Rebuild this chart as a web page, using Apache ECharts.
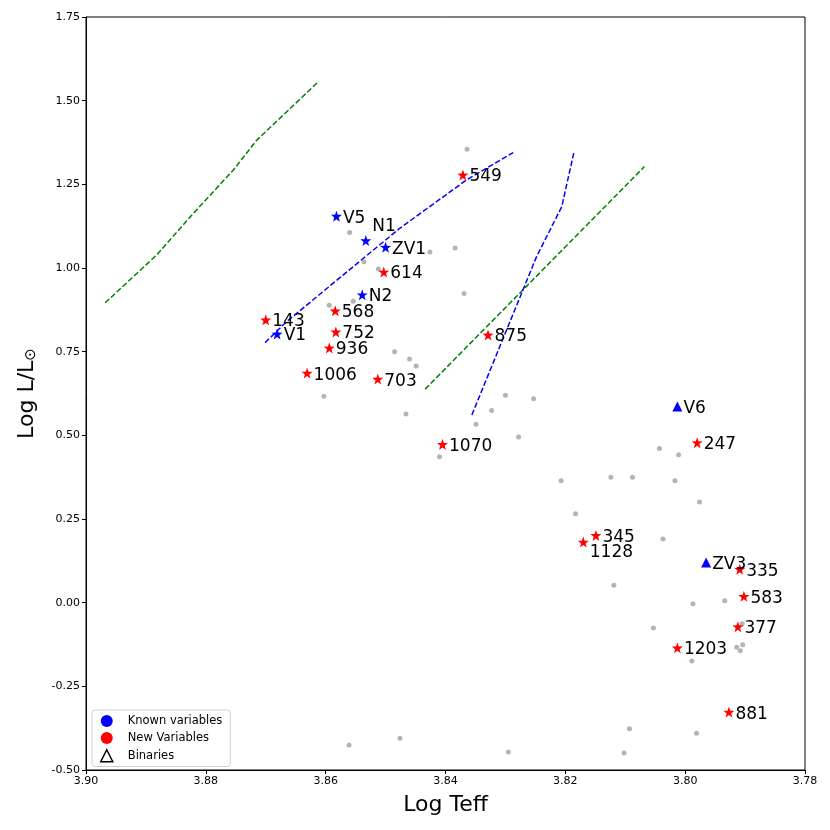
<!DOCTYPE html>
<html>
<head>
<meta charset="utf-8">
<script src="https://cdn.jsdelivr.net/npm/echarts@6/dist/echarts.min.js"></script>
<style>
  html, body { margin: 0; padding: 0; background: #fff; }
  #chart { width: 830px; height: 830px; }
</style>
</head>
<body>
<div id="chart"></div>
<script>
// x = Log Teff, y = Log L/Lsun
const xTicks = [3.90, 3.88, 3.86, 3.84, 3.82, 3.80, 3.78];
const yTicks = [-0.50, -0.25, 0.00, 0.25, 0.50, 0.75, 1.00, 1.25, 1.50, 1.75];

const knownNames = ['V5', 'N1', 'ZV1', 'N2', 'V1'];
const knownTeff = [3.8582, 3.8533, 3.8500, 3.8539, 3.8681];
const knownLum = [1.155, 1.082, 1.062, 0.920, 0.803];

const binaryNames = ['V6', 'ZV3'];
const binaryTeff = [3.8013, 3.7965];
const binaryLum = [0.586, 0.120];

const newNames = ['549', '614', '568', '143', '752', '936', '1006', '703', '875', '1070',
  '247', '345', '1128', '335', '583', '377', '1203', '881'];
const newTeff = [3.8371, 3.8503, 3.8584, 3.8700, 3.8583, 3.8594, 3.8631, 3.8513, 3.8329, 3.8405,
  3.7980, 3.8149, 3.8170, 3.7909, 3.7902, 3.7912, 3.8013, 3.7927];
const newLum = [1.278, 0.988, 0.872, 0.845, 0.809, 0.761, 0.686, 0.668, 0.800, 0.473,
  0.478, 0.201, 0.181, 0.100, 0.019, -0.072, -0.135, -0.327];

const fieldTeff = [3.8364, 3.8560, 3.8426, 3.8384, 3.8536, 3.8512, 3.8369, 3.8594, 3.8554, 3.8485,
  3.8460, 3.8449, 3.8603, 3.8466, 3.8349, 3.8300, 3.8253, 3.8323, 3.8278, 3.8410,
  3.8043, 3.8011, 3.8207, 3.8124, 3.8088, 3.8017, 3.7976, 3.8183, 3.8037, 3.8119,
  3.7987, 3.7934, 3.7905, 3.8053, 3.7914, 3.7904, 3.7908, 3.7989, 3.8093, 3.7981,
  3.8476, 3.8295, 3.8102, 3.8561];
const fieldLum = [1.355, 1.106, 1.048, 1.060, 1.019, 0.997, 0.924, 0.889, 0.901, 0.750,
  0.728, 0.707, 0.617, 0.564, 0.533, 0.620, 0.609, 0.574, 0.495, 0.436,
  0.461, 0.442, 0.364, 0.375, 0.375, 0.364, 0.301, 0.266, 0.190, 0.052,
  -0.003, 0.006, -0.063, -0.076, -0.133, -0.126, -0.144, -0.174, -0.377, -0.390,
  -0.405, -0.446, -0.449, -0.425];

// instability strip edges (green) and blue edges
const greenLeftTeff = [3.8968, 3.8882, 3.8826, 3.8754, 3.8715, 3.8612];
const greenLeftLum = [0.896, 1.039, 1.153, 1.293, 1.382, 1.557];
const greenRightTeff = [3.8434, 3.8068];
const greenRightLum = [0.638, 1.303];
const blueLeftTeff = [3.8701, 3.8665, 3.8537, 3.8476, 3.8365, 3.8287];
const blueLeftLum = [0.777, 0.840, 1.029, 1.119, 1.263, 1.345];
const blueRightTeff = [3.8356, 3.8248, 3.8206, 3.8186];
const blueRightLum = [0.561, 1.034, 1.183, 1.343];

// labels that are not placed plainly to the right
const labelOffset = { N1: [0, -14], '1128': [0, 10] };

const FONT = 'DejaVu Sans';
const dash = [5.5, 2.4];
const STAR = 'path://M0,-10 L2.35,-3.24 L9.51,-3.09 L3.8,1.24 L5.88,8.09 L0,4 L-5.88,8.09 L-3.8,1.24 L-9.51,-3.09 L-2.35,-3.24 Z';

function pairs(xs, ys) {
  return xs.map((x, i) => [x, ys[i]]);
}
function named(names, xs, ys) {
  return names.map((n, i) => {
    const item = { name: n, value: [xs[i], ys[i]] };
    if (labelOffset[n]) item.label = { offset: labelOffset[n] };
    return item;
  });
}
const starLabel = {
  show: true,
  position: 'right',
  distance: 1,
  offset: [0, 2],
  formatter: '{b}',
  color: '#000',
  fontFamily: FONT,
  fontSize: 17
};
function edge(xs, ys, color) {
  return {
    type: 'line',
    data: pairs(xs, ys),
    showSymbol: false,
    silent: true,
    lineStyle: { color: color, width: 1.5, type: dash },
    z: 1
  };
}

let chart = echarts.init(document.getElementById('chart'));
chart.setOption({
  animation: false,
  grid: {
    left: 86,
    right: 25,
    top: 17,
    bottom: 60,
    show: true,
    borderColor: '#000',
    borderWidth: 1
  },
  legend: {
    orient: 'vertical',
    left: 92,
    top: 710,
    padding: [5, 8, 4, 8],
    itemGap: 5,
    itemWidth: 12,
    itemHeight: 12,
    backgroundColor: '#fff',
    borderColor: '#d0d0d0',
    borderWidth: 1,
    borderRadius: 3,
    textStyle: { fontFamily: FONT, fontSize: 11.5, color: '#000', padding: [0, 0, 0, 10] },
    data: [
      { name: 'Known variables', icon: 'circle', itemStyle: { color: '#0000ff', opacity: 1 } },
      { name: 'New Variables', icon: 'circle', itemStyle: { color: '#ff0000', opacity: 1 } },
      { name: 'Binaries', icon: 'triangle', itemStyle: { color: '#fff', borderColor: '#000', borderWidth: 1.5, opacity: 1 } }
    ]
  },
  xAxis: {
    type: 'value',
    inverse: true,
    min: xTicks[xTicks.length - 1],
    max: xTicks[0],
    interval: 0.02,
    name: 'Log Teff',
    nameLocation: 'middle',
    nameGap: 24,
    nameTextStyle: { fontFamily: FONT, fontSize: 22, color: '#000' },
    splitLine: { show: false },
    axisLine: { onZero: false, lineStyle: { color: '#000' } },
    axisTick: { show: true, length: 4, lineStyle: { color: '#000' } },
    axisLabel: {
      fontFamily: FONT, fontSize: 11, color: '#000', margin: 6,
      formatter: (v) => v.toFixed(2)
    }
  },
  yAxis: {
    type: 'value',
    min: yTicks[0],
    max: yTicks[yTicks.length - 1],
    interval: 0.25,
    name: 'Log L/L{sub|⊙}',
    nameLocation: 'middle',
    nameGap: 47,
    nameTextStyle: {
      fontFamily: FONT, fontSize: 22, color: '#000',
      rich: { sub: { fontFamily: FONT, fontSize: 15, verticalAlign: 'bottom', padding: [8, 0, 0, 0] } }
    },
    splitLine: { show: false },
    axisLine: { onZero: false, lineStyle: { color: '#000' } },
    axisTick: { show: true, length: 4, lineStyle: { color: '#000' } },
    axisLabel: {
      fontFamily: FONT, fontSize: 11, color: '#000', margin: 6,
      formatter: (v) => v.toFixed(2)
    }
  },
  series: [
    {
      name: 'field',
      type: 'scatter',
      data: pairs(fieldTeff, fieldLum),
      symbol: 'circle',
      symbolSize: 5,
      itemStyle: { color: '#b4b4b4', opacity: 1 },
      silent: true,
      z: 2
    },
    edge(greenLeftTeff, greenLeftLum, '#008000'),
    edge(greenRightTeff, greenRightLum, '#008000'),
    edge(blueLeftTeff, blueLeftLum, '#0000ff'),
    edge(blueRightTeff, blueRightLum, '#0000ff'),
    {
      name: 'Known variables',
      type: 'scatter',
      data: named(knownNames, knownTeff, knownLum),
      symbol: STAR,
      symbolSize: 11,
      itemStyle: { color: '#0000ff', opacity: 1 },
      label: starLabel,
      z: 3
    },
    {
      name: 'New Variables',
      type: 'scatter',
      data: named(newNames, newTeff, newLum),
      symbol: STAR,
      symbolSize: 11,
      itemStyle: { color: '#ff0000', opacity: 1 },
      label: starLabel,
      z: 3
    },
    {
      name: 'Binaries',
      type: 'scatter',
      data: named(binaryNames, binaryTeff, binaryLum),
      symbol: 'triangle',
      symbolSize: 10,
      itemStyle: { color: '#0000ff', opacity: 1 },
      label: starLabel,
      z: 3
    }
  ]
});
window.addEventListener('resize', function() {
  chart.resize();
});
</script>
</body>
</html>
